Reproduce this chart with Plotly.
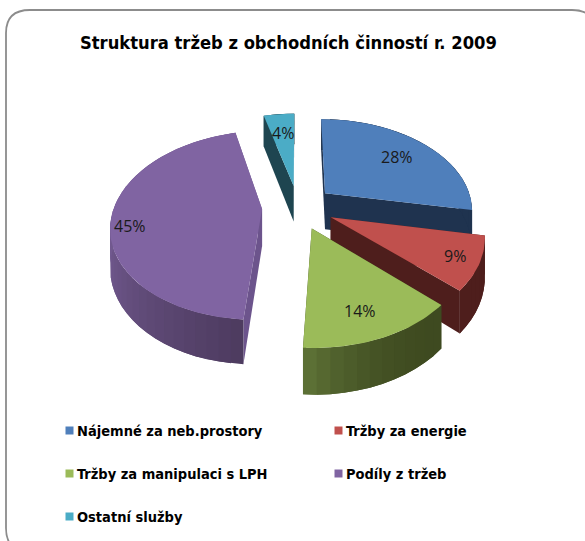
import math
import plotly.graph_objects as go

# ---- data ----
categories = ["Nájemné za neb.prostory", "Tržby za energie", "Tržby za manipulaci s LPH", "Podíly z tržeb", "Ostatní služby"]
shares = [28, 9, 14, 45, 4]
title_text = "Struktura tržeb z obchodních činností r. 2009"

# ---- style ----
top_colors = ["#4f7fbb", "#c0504d", "#9bbb59", "#8064a2", "#4bacc6"]
radial_colors = ["#1f334f", "#4e1e1c", "#3f4a22", "#6c548c", "#1e4550"]
arc_start = ["#1f334f", "#4e1e1c", "#3e4a20", "#4d3b5f", "#1e4550"]
arc_end = ["#1f334f", "#4e1e1c", "#5f7437", "#71598f", "#1e4550"]
label_radius = [0.71, 0.85, 0.78, 0.88, 0.71]
label_nudge_x = [0, 0, -4, 0, 0]
label_nudge_y = [0, 0, 1, 9, 0]
paint_order = [4, 0, 3, 1, 2]

CX, CY, A, B, K, EXPLODE, DEPTH = 298, 207, 148, 91, 0.17, 0.243, 37


def project(x, z, drop=0.0):
    s = 1 / (1 - K * z)
    return CX + A * x * s, CY + B * z * s + drop * s


def hex2rgb(h):
    return [int(h[i:i + 2], 16) for i in (1, 3, 5)]


def mix(a, b, t):
    ca, cb = hex2rgb(a), hex2rgb(b)
    return "rgb(%d,%d,%d)" % tuple(round(ca[i] + (cb[i] - ca[i]) * t) for i in range(3))


total = sum(shares)
bounds = [0]
for v in shares:
    bounds.append(bounds[-1] + v / total * 2 * math.pi)


def apex(i):
    m = (bounds[i] + bounds[i + 1]) / 2
    return EXPLODE * math.sin(m), -EXPLODE * math.cos(m)


def rim(i, t):
    ax, az = apex(i)
    return ax + math.sin(t), az - math.cos(t)


fig = go.Figure()


def poly(pts, color):
    xs = [p[0] for p in pts] + [pts[0][0]]
    ys = [p[1] for p in pts] + [pts[0][1]]
    fig.add_trace(go.Scatter(x=xs, y=ys, mode="lines", fill="toself", fillcolor=color,
                             line=dict(color=color, width=0), hoverinfo="skip", showlegend=False))


for i in paint_order:
    t0, t1 = bounds[i], bounds[i + 1]
    ax, az = apex(i)
    # radial side faces
    for t in (t0, t1):
        rx, rz = rim(i, t)
        poly([project(ax, az), project(rx, rz), project(rx, rz, DEPTH), project(ax, az, DEPTH)], radial_colors[i])
    # outer wall, in small shaded strips that overlap the next one
    n = max(4, int((t1 - t0) / math.radians(4)))
    for j in range(n):
        a0 = t0 + (t1 - t0) * j / n
        a1 = t0 + (t1 - t0) * min(n, j + 2) / n
        p0, pm, p1 = rim(i, a0), rim(i, (a0 + a1) / 2), rim(i, a1)
        u = (j + .5) / n
        shade = min(1, u * 2.2) if i == 3 else u ** 2.5
        poly([project(*p0), project(*pm), project(*p1), project(*p1, DEPTH), project(*pm, DEPTH), project(*p0, DEPTH)],
             mix(arc_start[i], arc_end[i], shade))
    # top face
    steps = max(8, int((t1 - t0) / math.radians(1.5)))
    top = [project(ax, az)]
    for j in range(steps + 1):
        top.append(project(*rim(i, t0 + (t1 - t0) * j / steps)))
    poly(top, top_colors[i])

annotations = []
for i, v in enumerate(shares):
    m = (bounds[i] + bounds[i + 1]) / 2
    ax, az = apex(i)
    lx, ly = project(ax + label_radius[i] * math.sin(m), az - label_radius[i] * math.cos(m))
    annotations.append(dict(x=lx + label_nudge_x[i], y=ly + label_nudge_y[i], text=f"{v}%", showarrow=False,
                            xanchor="center", yanchor="middle",
                            font=dict(family="Open Sans", size=16, color="#1a1a1a")))

# legend
leg_x = [66, 335, 66, 335, 66]
leg_y = [431, 431, 474, 474, 517]
for i, c in enumerate(categories):
    fig.add_trace(go.Scatter(x=[leg_x[i] + 3.5], y=[leg_y[i] - 0.5], mode="markers",
                             marker=dict(symbol="square", size=8, color=top_colors[i]),
                             hoverinfo="skip", showlegend=False))
    annotations.append(dict(x=leg_x[i] + 9, y=leg_y[i], text=c, showarrow=False, xanchor="left", yanchor="middle",
                            font=dict(family="DejaVu Sans Condensed", size=14.5, color="#000000", weight="bold")))

annotations.append(dict(x=288, y=42, text=title_text, showarrow=False, xanchor="center", yanchor="middle",
                        font=dict(family="DejaVu Sans Condensed", size=18.2, color="#000000", weight="bold")))

border = "M 6 33 Q 6 10 30 10 L 572 10 Q 596 10 596 33 L 596 528 Q 596 552 572 552 L 30 552 Q 6 552 6 528 Z"

fig.update_layout(
    width=585, height=541, margin=dict(l=0, r=0, t=0, b=0), autosize=False,
    paper_bgcolor="white", plot_bgcolor="white", showlegend=False,
    xaxis=dict(range=[0, 585], visible=False, fixedrange=True),
    yaxis=dict(range=[541, 0], visible=False, fixedrange=True),
    annotations=annotations,
    shapes=[dict(type="path", path=border, xref="x", yref="y", layer="below",
                 line=dict(color="#8c8c8c", width=1.8), fillcolor="white")],
)
fig.write_html("out.html", config={"displayModeBar": False},
               post_script="document.body.style.margin='0';")
